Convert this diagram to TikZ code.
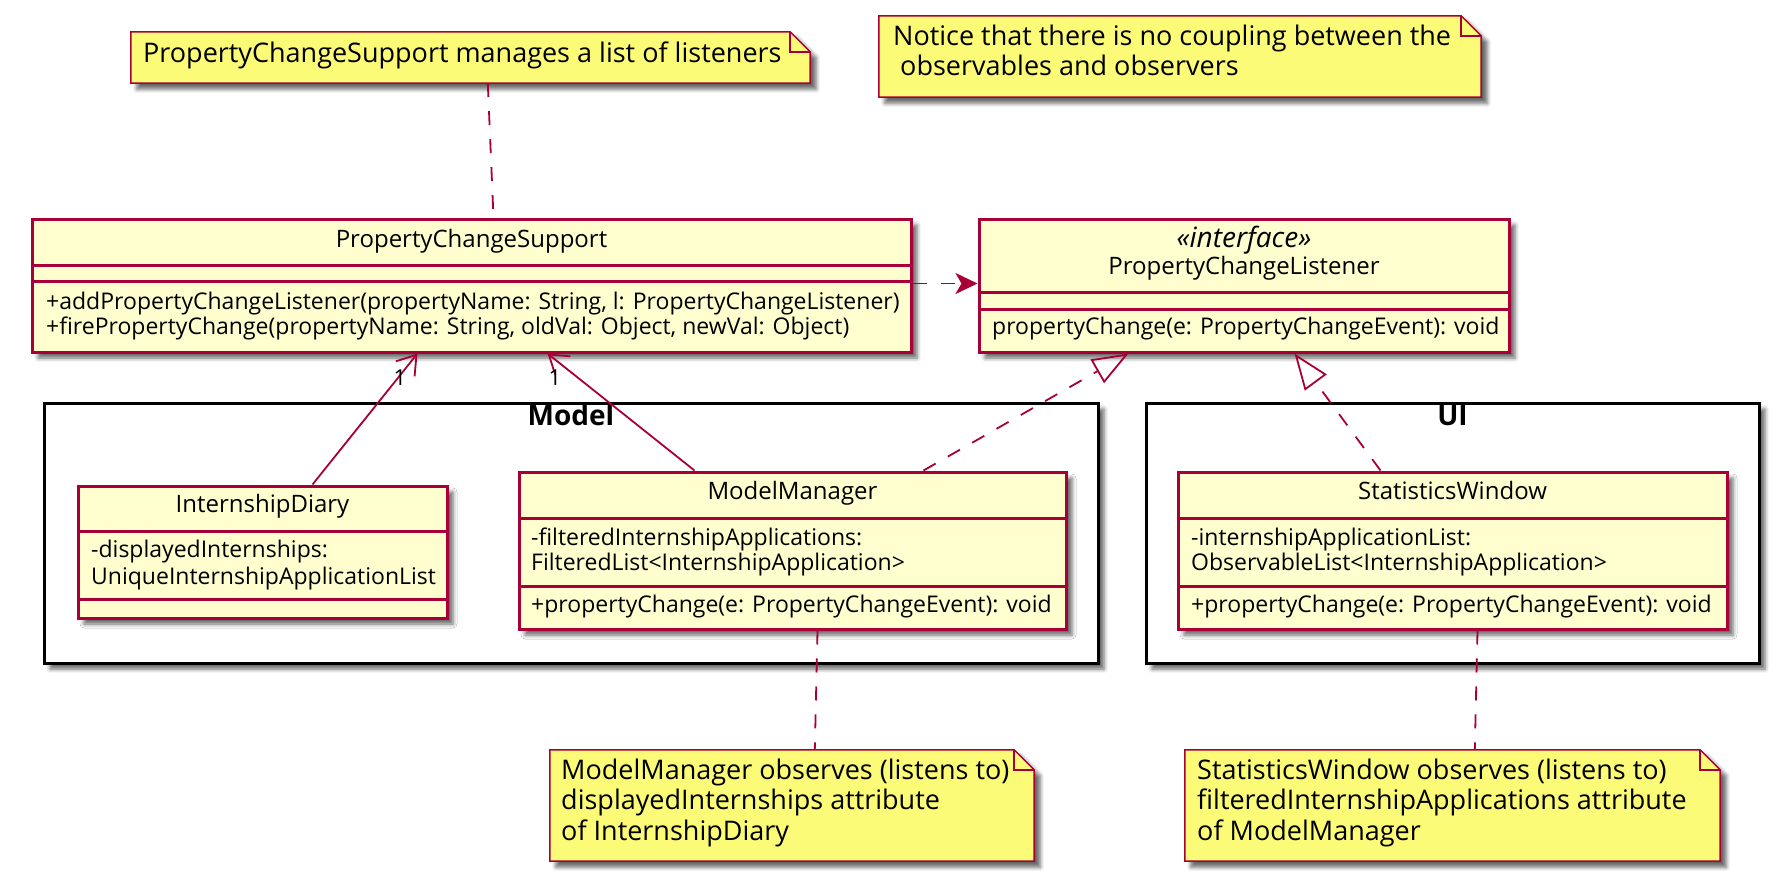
\documentclass[tikz,border=0pt]{standalone}
\usepackage{fontspec}
\setmainfont{Open Sans}
\usetikzlibrary{arrows.meta,shadows.blur}
\definecolor{umlred}{HTML}{A80036}
\definecolor{classfill}{HTML}{FEFECE}
\definecolor{notefill}{HTML}{FBFB77}
\tikzset{
 shad/.style={blur shadow={shadow xshift=6pt,shadow yshift=-6pt,shadow blur radius=4pt,shadow opacity=60}},
 classbox/.style={draw=umlred, fill=classfill, line width=3pt, shad, inner sep=0pt},
 sepline/.style={draw=umlred, line width=3pt},
 hdr/.style={font=\fontsize{24}{28}\selectfont, anchor=mid, inner sep=0pt},
 ihdr/.style={font=\itshape\fontsize{28}{30}\selectfont, anchor=mid, inner sep=0pt},
 mem/.style={font=\fontsize{23}{25}\selectfont, anchor=mid west, inner sep=0pt},
 pkg/.style={draw=black, fill=white, line width=3pt, shad, inner sep=0pt},
 pkgtitle/.style={font=\bfseries\fontsize{28}{30}\selectfont, anchor=mid, inner sep=0pt},
 notebox/.style={inner sep=0pt},
 noteshape/.style={draw=umlred, fill=notefill, line width=1.5pt, shad},
 notefold/.style={draw=umlred, line width=1.5pt},
 notetext/.style={font=\fontsize{27}{30}\selectfont, anchor=mid west, inner sep=0pt},
 lbl/.style={font=\fontsize{22}{25}\selectfont, anchor=mid, inner sep=0pt},
 conn/.style={draw=umlred, line width=1.8pt},
 dashline/.style={dash pattern=on 14pt off 14pt},
}
\newcommand{\drawnote}[1]{%
 \path[noteshape] (#1.north west) -- ([xshift=-20pt]#1.north east) -- ([yshift=-20pt]#1.north east) -- (#1.south east) -- (#1.south west) -- cycle;
 \draw[notefold] ([xshift=-20pt]#1.north east) -- ([xshift=-20pt,yshift=-20pt]#1.north east) -- ([yshift=-20pt]#1.north east);
}
\begin{document}
\begin{tikzpicture}[x=1pt,y=-1pt]
\useasboundingbox (0,0) rectangle (1778,883);

% packages
\node[pkg, minimum width=1054pt, minimum height=260pt] (model) at (571,533) {};
\node[pkgtitle] (modeltitle) at (571,423) {Model};
\node[pkg, minimum width=613pt, minimum height=260pt] (ui) at (1452.5,533) {};
\node[pkgtitle] (uititle) at (1452.5,423) {UI};

% PropertyChangeSupport
\node[classbox, minimum width=879pt, minimum height=133pt] (pcs) at (471.5,285.5) {};
\draw[sepline] ([yshift=-48pt]pcs.north west) -- ([yshift=-48pt]pcs.north east);
\draw[sepline] ([yshift=-64pt]pcs.north west) -- ([yshift=-64pt]pcs.north east);
\node[hdr] (pcsname) at (471.5,245) {PropertyChangeSupport};
\node[mem] (pcsm1) at (46,307) {+addPropertyChangeListener(propertyName: String, l: PropertyChangeListener)};
\node[mem] (pcsm2) at (46,332) {+firePropertyChange(propertyName: String, oldVal: Object, newVal: Object)};

% PropertyChangeListener
\node[classbox, minimum width=530pt, minimum height=133pt] (pcl) at (1244,285.5) {};
\draw[sepline] ([yshift=-75pt]pcl.north west) -- ([yshift=-75pt]pcl.north east);
\draw[sepline] ([yshift=-92pt]pcl.north west) -- ([yshift=-92pt]pcl.north east);
\node[ihdr] (pclst) at (1244,245) {«interface»};
\node[hdr] (pclname) at (1244,272) {PropertyChangeListener};
\node[mem] (pclm1) at (992,332) {propertyChange(e: PropertyChangeEvent): void};

% InternshipDiary
\node[classbox, minimum width=369pt, minimum height=132pt] (idiary) at (262.5,552) {};
\draw[sepline] ([yshift=-47pt]idiary.north west) -- ([yshift=-47pt]idiary.north east);
\draw[sepline] ([yshift=-115pt]idiary.north west) -- ([yshift=-115pt]idiary.north east);
\node[hdr] (idname) at (262.5,510) {InternshipDiary};
\node[mem] (ida1) at (91,555) {-displayedInternships:};
\node[mem] (ida2) at (91,582) {UniqueInternshipApplicationList};

% ModelManager
\node[classbox, minimum width=547pt, minimum height=157pt] (mm) at (792.5,550.5) {};
\draw[sepline] ([yshift=-48pt]mm.north west) -- ([yshift=-48pt]mm.north east);
\draw[sepline] ([yshift=-116pt]mm.north west) -- ([yshift=-116pt]mm.north east);
\node[hdr] (mmname) at (792.5,497) {ModelManager};
\node[mem] (mma1) at (531,543) {-filteredInternshipApplications:};
\node[mem] (mma2) at (531,568) {FilteredList<InternshipApplication>};
\node[mem] (mmm1) at (531,610) {+propertyChange(e: PropertyChangeEvent): void};

% StatisticsWindow
\node[classbox, minimum width=549pt, minimum height=157pt] (sw) at (1452.5,550.5) {};
\draw[sepline] ([yshift=-48pt]sw.north west) -- ([yshift=-48pt]sw.north east);
\draw[sepline] ([yshift=-116pt]sw.north west) -- ([yshift=-116pt]sw.north east);
\node[hdr] (swname) at (1452.5,497) {StatisticsWindow};
\node[mem] (swa1) at (1191,543) {-internshipApplicationList:};
\node[mem] (swa2) at (1191,568) {ObservableList<InternshipApplication>};
\node[mem] (swm1) at (1191,610) {+propertyChange(e: PropertyChangeEvent): void};

% notes
\node[notebox, minimum width=679pt, minimum height=51pt] (n1) at (470.5,57.5) {};
\drawnote{n1}
\node[notetext] (n1t) at (143,60) {PropertyChangeSupport manages a list of listeners};

\node[notebox, minimum width=602pt, minimum height=81pt] (n2) at (1180,56.5) {};
\drawnote{n2}
\node[notetext] (n2t1) at (893,43) {Notice that there is no coupling between the};
\node[notetext] (n2t2) at (893,73) {\ observables and observers};

\node[notebox, minimum width=484pt, minimum height=111pt] (n3) at (792,805.5) {};
\drawnote{n3}
\node[notetext] (n3t1) at (561,777) {ModelManager observes (listens to)};
\node[notetext] (n3t2) at (561,807) {displayedInternships attribute};
\node[notetext] (n3t3) at (561,838) {of InternshipDiary};

\node[notebox, minimum width=535pt, minimum height=111pt] (n4) at (1452.5,805.5) {};
\drawnote{n4}
\node[notetext] (n4t1) at (1197,777) {StatisticsWindow observes (listens to)};
\node[notetext] (n4t2) at (1197,807) {filteredInternshipApplications attribute};
\node[notetext] (n4t3) at (1197,838) {of ModelManager};

% connectors
\draw[conn,dashline] ([xshift=357pt]n1.south west) -- ([xshift=463pt]pcs.north west);
\draw[conn,dashline,-{Stealth[length=22pt,width=21pt,inset=6pt]}] ([yshift=-66pt]pcs.north east) -- ([yshift=-66pt]pcl.north west);
\draw[conn,-{Straight Barb[length=18pt,width=24pt]}] ([xshift=236pt]idiary.north west) -- ([xshift=387pt]pcs.south west);
\draw[conn,-{Straight Barb[length=18pt,width=24pt]}] ([xshift=177pt]mm.north west) -- ([xshift=517pt]pcs.south west);
\node[lbl] (l1) at (400,383) {1};
\node[lbl] (l2) at (555,383) {1};
\draw[conn,dashline,-{Triangle[open,length=36pt,width=27pt]}] ([xshift=406pt]mm.north west) -- ([xshift=151pt]pcl.south west);
\draw[conn,dashline,-{Triangle[open,length=36pt,width=27pt]}] ([xshift=204pt]sw.north west) -- ([xshift=317pt]pcl.south west);
\draw[conn,dashline] ([xshift=300pt]mm.south west) -- ([xshift=265pt]n3.north west);
\draw[conn,dashline] ([xshift=301pt]sw.south west) -- ([xshift=290pt]n4.north west);
\end{tikzpicture}
\end{document}
